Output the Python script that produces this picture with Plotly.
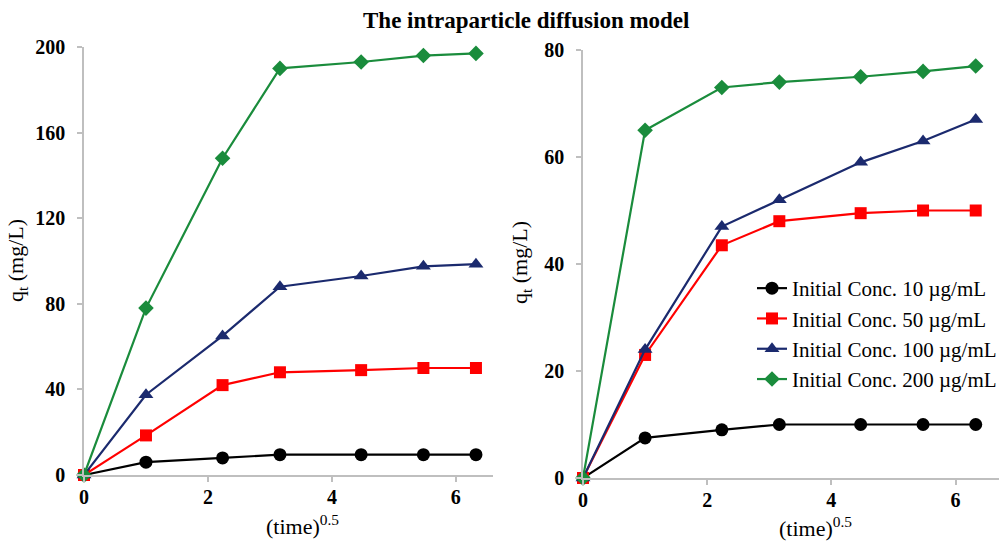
import plotly.graph_objects as go

time_sqrt = [0, 1, 2.236, 3.162, 4.472, 5.477, 6.325]

series_names = ["Initial Conc. 10 µg/mL", "Initial Conc. 50 µg/mL",
                "Initial Conc. 100 µg/mL", "Initial Conc. 200 µg/mL"]

left_10 = [0, 6, 8, 9.5, 9.5, 9.5, 9.5]
left_50 = [0, 18.5, 42, 48, 49, 50, 50]
left_100 = [0, 37.5, 65, 88, 93, 97.5, 98.5]
left_200 = [0, 78, 148, 190, 193, 196, 197]

right_10 = [0, 7.5, 9, 10, 10, 10, 10]
right_50 = [0, 23, 43.5, 48, 49.5, 50, 50]
right_100 = [0, 24, 47, 52, 59, 63, 67]
right_200 = [0, 65, 73, 74, 75, 76, 77]

colors = ["#000000", "#ff0000", "#1b2a6e", "#1a8c3c"]
symbols = ["circle", "square", "triangle-up", "diamond"]
sizes = [13, 12, 13, 12]

W, H = 999, 542
FONT = "Liberation Serif"

fig = go.Figure()

left = [left_10, left_50, left_100, left_200]
right = [right_10, right_50, right_100, right_200]

for i in range(4):
    fig.add_trace(go.Scatter(
        x=time_sqrt, y=left[i], mode="lines+markers", name=series_names[i],
        line=dict(color=colors[i], width=2.2),
        marker=dict(symbol=symbols[i], size=sizes[i], color=colors[i]),
        xaxis="x", yaxis="y", showlegend=False, cliponaxis=False))
for i in range(4):
    fig.add_trace(go.Scatter(
        x=time_sqrt, y=right[i], mode="lines+markers", name=series_names[i],
        line=dict(color=colors[i], width=2.2),
        marker=dict(symbol=symbols[i], size=sizes[i], color=colors[i]),
        xaxis="x2", yaxis="y2", showlegend=True, cliponaxis=False))

def px_x(p):
    return p / W

def px_y(p):
    return (H - p) / H

axis_common = dict(
    showgrid=False, zeroline=False, showline=True, linecolor="#bfbfbf", linewidth=1.5,
    ticks="outside", tickcolor="#bfbfbf", ticklen=5, tickwidth=1.5, automargin=False,
    tickfont=dict(family=FONT, size=20, color="#000000", weight="bold"),
)

title_font = dict(family=FONT, size=22, color="#000000")

annotations = [
    dict(text="q<sub>t</sub> (mg/L)", x=px_x(17), y=px_y(261), xref="paper", yref="paper",
         textangle=-90, showarrow=False, font=title_font, xanchor="center", yanchor="middle"),
    dict(text="q<sub>t</sub> (mg/L)", x=px_x(521), y=px_y(263), xref="paper", yref="paper",
         textangle=-90, showarrow=False, font=title_font, xanchor="center", yanchor="middle"),
    dict(text="(time)<sup>0.5</sup>", x=px_x(302), y=px_y(525), xref="paper", yref="paper",
         showarrow=False, font=title_font, xanchor="center", yanchor="middle"),
    dict(text="(time)<sup>0.5</sup>", x=px_x(815), y=px_y(527), xref="paper", yref="paper",
         showarrow=False, font=title_font, xanchor="center", yanchor="middle"),
    dict(text="<b>The intraparticle diffusion model</b>", x=px_x(526), y=px_y(20),
         xref="paper", yref="paper", showarrow=False, xanchor="center", yanchor="middle",
         font=dict(family=FONT, size=23, color="#000000")),
]

fig.update_layout(
    width=W, height=H,
    margin=dict(l=0, r=0, t=0, b=0, autoexpand=False),
    paper_bgcolor="white", plot_bgcolor="white",
    font=dict(family=FONT, color="#000000"),
    annotations=annotations,
    xaxis=dict(domain=[px_x(84), px_x(493)], range=[0, 6.6], tickvals=[0, 2, 4, 6],
               anchor="y", ticklabelstandoff=-2, **axis_common),
    yaxis=dict(domain=[px_y(475), px_y(47)], range=[0, 200], tickvals=[0, 40, 80, 120, 160, 200],
               anchor="x", ticklabelstandoff=8, **axis_common),
    xaxis2=dict(domain=[px_x(583), 1.0], range=[0, 6.7], tickvals=[0, 2, 4, 6],
                anchor="y2", ticklabelstandoff=-2, **axis_common),
    yaxis2=dict(domain=[px_y(478), px_y(50)], range=[0, 80], tickvals=[0, 20, 40, 60, 80],
                anchor="x2", ticklabelstandoff=8, **axis_common),
    legend=dict(x=px_x(752), y=px_y(268), xanchor="left", yanchor="top",
                bgcolor="rgba(0,0,0,0)", font=dict(family=FONT, size=21, color="#000000"),
                tracegroupgap=0, itemwidth=30),
)

fig.write_html("out.html")
